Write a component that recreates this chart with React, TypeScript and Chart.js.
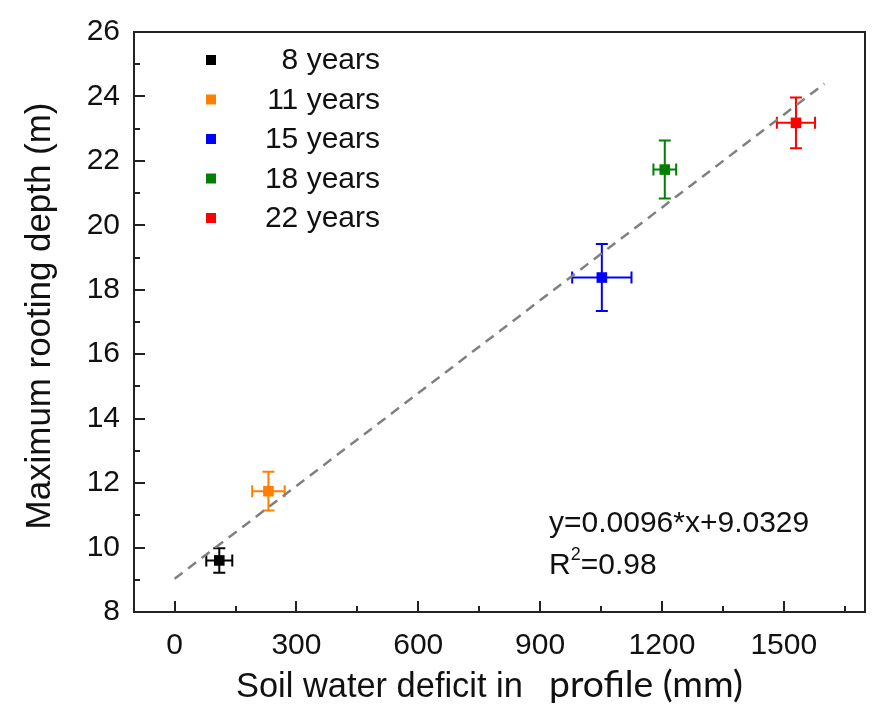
import React, { useEffect, useRef } from "react";
import { Chart, registerables } from "chart.js";

Chart.register(...registerables);

// Stand ages and their colours
const ageLabels = ["8 years", "11 years", "15 years", "18 years", "22 years"];
const ageColors = ["#000000", "#ff8000", "#0000ff", "#008000", "#ff0000"];

// Soil water deficit in profile (mm) and its spread
const deficit = [110, 231, 1052, 1207, 1530];
const deficitErr = [32, 40, 73, 28, 47];

// Maximum rooting depth (m) and its spread
const depth = [9.6, 11.75, 18.38, 21.73, 23.18];
const depthErr = [0.38, 0.6, 1.04, 0.9, 0.79];

// Linear fit
const fitSlope = 0.0096;
const fitIntercept = 9.0329;
const fitRange = [0, 1600];
const fitText = "y=0.0096*x+9.0329";
const r2Text = "0.98";

// Axis ticks
const xTickValues = [0, 300, 600, 900, 1200, 1500];
const xMinorValues = [150, 450, 750, 1050, 1350, 1650];
const yTickValues = [8, 10, 12, 14, 16, 18, 20, 22, 24, 26];
const yMinorValues = [9, 11, 13, 15, 17, 19, 21, 23, 25];

const ARIAL = "'Liberation Sans', Arial, sans-serif";
const CAL = "Lato, 'Open Sans', sans-serif";

function fitFont(ctx: CanvasRenderingContext2D, text: string, family: string, target: number) {
  ctx.font = `100px ${family}`;
  const w = ctx.measureText(text).width;
  return (100 * target) / w;
}

const decorPlugin = {
  id: "decor",
  beforeDatasetsDraw(chart: any) {
    const { ctx, scales } = chart;
    const xs = scales.x;
    const ys = scales.y;
    ctx.save();
    ctx.lineWidth = 2;
    for (let i = 0; i < deficit.length; i++) {
      const cx = xs.getPixelForValue(deficit[i]);
      const cy = ys.getPixelForValue(depth[i]);
      const x0 = xs.getPixelForValue(deficit[i] - deficitErr[i]);
      const x1 = xs.getPixelForValue(deficit[i] + deficitErr[i]);
      const y0 = ys.getPixelForValue(depth[i] + depthErr[i]);
      const y1 = ys.getPixelForValue(depth[i] - depthErr[i]);
      const cap = 6;
      ctx.strokeStyle = ageColors[i];
      ctx.beginPath();
      ctx.moveTo(x0, cy);
      ctx.lineTo(x1, cy);
      ctx.moveTo(x0, cy - cap);
      ctx.lineTo(x0, cy + cap);
      ctx.moveTo(x1, cy - cap);
      ctx.lineTo(x1, cy + cap);
      ctx.moveTo(cx, y0);
      ctx.lineTo(cx, y1);
      ctx.moveTo(cx - cap, y0);
      ctx.lineTo(cx + cap, y0);
      ctx.moveTo(cx - cap, y1);
      ctx.lineTo(cx + cap, y1);
      ctx.stroke();
    }
    ctx.restore();
  },
  afterDraw(chart: any) {
    const { ctx, chartArea: a, scales } = chart;
    const xs = scales.x;
    const ys = scales.y;
    ctx.save();
    // frame
    ctx.strokeStyle = "#222222";
    ctx.lineWidth = 2;
    ctx.strokeRect(a.left, a.top, a.right - a.left, a.bottom - a.top);
    // inward ticks
    ctx.beginPath();
    for (const v of xTickValues) {
      const p = Math.round(xs.getPixelForValue(v));
      ctx.moveTo(p, a.bottom);
      ctx.lineTo(p, a.bottom - 11);
    }
    for (const v of xMinorValues) {
      const p = Math.round(xs.getPixelForValue(v));
      ctx.moveTo(p, a.bottom);
      ctx.lineTo(p, a.bottom - 6);
    }
    for (const v of yTickValues) {
      const p = Math.round(ys.getPixelForValue(v));
      ctx.moveTo(a.left, p);
      ctx.lineTo(a.left + 11, p);
    }
    for (const v of yMinorValues) {
      const p = Math.round(ys.getPixelForValue(v));
      ctx.moveTo(a.left, p);
      ctx.lineTo(a.left + 6, p);
    }
    ctx.stroke();

    // legend
    ctx.textBaseline = "middle";
    for (let i = 0; i < ageLabels.length; i++) {
      const ly = 60 + i * 39.5;
      ctx.fillStyle = ageColors[i];
      ctx.fillRect(206, ly - 5, 10, 10);
      ctx.fillStyle = "#111111";
      ctx.textAlign = "right";
      ctx.font = `30px ${ARIAL}`;
      ctx.fillText(ageLabels[i], 380, ly + 1);
    }

    // fit annotation
    ctx.textAlign = "left";
    ctx.font = `30px ${ARIAL}`;
    ctx.fillText(fitText, 549, 524);
    ctx.fillText("R", 549, 566);
    const rw = ctx.measureText("R").width;
    ctx.font = `18px ${ARIAL}`;
    ctx.fillText("2", 549 + rw, 555);
    const sw = ctx.measureText("2").width;
    ctx.font = `30px ${ARIAL}`;
    ctx.fillText("=" + r2Text, 549 + rw + sw, 566);

    // y title
    const yTitle = "Maximum rooting depth (m)";
    const ySize = fitFont(ctx, yTitle, ARIAL, 427);
    ctx.save();
    ctx.translate(40, 316);
    ctx.rotate(-Math.PI / 2);
    ctx.textAlign = "center";
    ctx.font = `${ySize}px ${ARIAL}`;
    ctx.fillText(yTitle, 0, 0);
    ctx.restore();

    // x title, two parts in two typefaces
    const xt1 = "Soil water deficit in";
    const xt2 = "profile (mm)";
    const s1 = fitFont(ctx, xt1, ARIAL, 287);
    ctx.textAlign = "left";
    ctx.textBaseline = "alphabetic";
    ctx.font = `${s1}px ${ARIAL}`;
    ctx.fillText(xt1, 236, 697);
    const s2 = fitFont(ctx, xt2, CAL, 194);
    ctx.font = `${s2}px ${CAL}`;
    ctx.fillText(xt2, 549, 697);
    ctx.restore();
  },
};

export default function App() {
  const ref = useRef<HTMLCanvasElement | null>(null);

  useEffect(() => {
    if (!ref.current) return;
    const pointSets = ageLabels.map((label, i) => ({
      type: "scatter" as const,
      label,
      data: [{ x: deficit[i], y: depth[i] }],
      backgroundColor: ageColors[i],
      borderColor: ageColors[i],
      pointStyle: "rect",
      pointRadius: 7.5,
      borderWidth: 0,
      order: 1,
    }));
    const fitSet = {
      type: "line" as const,
      label: "fit",
      data: fitRange.map((x) => ({ x, y: fitSlope * x + fitIntercept })),
      borderColor: "#808080",
      borderWidth: 2.5,
      borderDash: [10, 7],
      pointRadius: 0,
      fill: false,
      order: 2,
    };
    const chart = new Chart(ref.current, {
      type: "scatter",
      data: { datasets: [fitSet as any, ...pointSets] },
      options: {
        animation: false,
        responsive: false,
        layout: { padding: { top: 17, right: 14, left: 0, bottom: 0 } },
        plugins: { legend: { display: false }, tooltip: { enabled: false } },
        scales: {
          x: {
            type: "linear",
            min: -100,
            max: 1700,
            grid: { display: false, drawTicks: false },
            border: { display: false },
            afterBuildTicks: (s: any) => {
              s.ticks = xTickValues.map((v) => ({ value: v }));
            },
            afterFit: (s: any) => {
              s.height = 95;
            },
            ticks: {
              color: "#111111",
              padding: 16,
              maxRotation: 0,
              font: { family: ARIAL, size: 30 },
              callback: (v: any) => String(v),
            },
          },
          y: {
            type: "linear",
            min: 8,
            max: 26,
            grid: { display: false, drawTicks: false },
            border: { display: false },
            afterBuildTicks: (s: any) => {
              s.ticks = yTickValues.map((v) => ({ value: v }));
            },
            afterFit: (s: any) => {
              s.width = 134;
            },
            ticks: {
              color: "#111111",
              padding: 14,
              font: { family: ARIAL, size: 30 },
              callback: (v: any) => String(v),
            },
          },
        },
      },
      plugins: [decorPlugin],
    });
    return () => chart.destroy();
  }, []);

  return (
    <div style={{ position: "absolute", left: 0, top: 0, width: 879, height: 707, background: "#ffffff" }}>
      <canvas ref={ref} width={879} height={707} style={{ display: "block" }} />
    </div>
  );
}
